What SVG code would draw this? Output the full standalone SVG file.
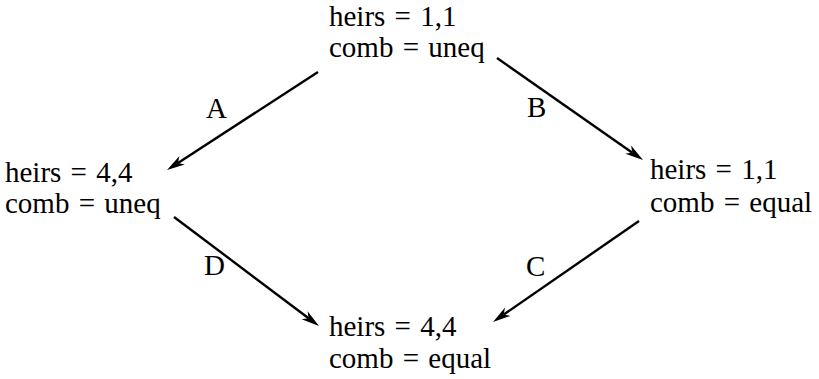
<svg xmlns="http://www.w3.org/2000/svg" width="819" height="379" viewBox="0 0 819 379">
<rect width="819" height="379" fill="#fff"/>
<g id="n1"><text font-family="Liberation Serif" font-size="29" word-spacing="2" x="329" y="26">heirs = 1,1</text><text font-family="Liberation Serif" font-size="29" word-spacing="2" x="329" y="57">comb = uneq</text></g>
<g id="n2"><text font-family="Liberation Serif" font-size="29" word-spacing="2" x="5" y="182">heirs = 4,4</text><text font-family="Liberation Serif" font-size="29" word-spacing="2" x="5" y="213">comb = uneq</text></g>
<g id="n3"><text font-family="Liberation Serif" font-size="29" word-spacing="2" x="650" y="179">heirs = 1,1</text><text font-family="Liberation Serif" font-size="29" word-spacing="2" x="650" y="212">comb = equal</text></g>
<g id="n4"><text font-family="Liberation Serif" font-size="29" word-spacing="2" x="329" y="336">heirs = 4,4</text><text font-family="Liberation Serif" font-size="29" word-spacing="2" x="329" y="368">comb = equal</text></g>
<g id="labels">
<text font-family="Liberation Serif" font-size="29" x="206" y="118">A</text>
<text font-family="Liberation Serif" font-size="29" x="527" y="117">B</text>
<text font-family="Liberation Serif" font-size="29" x="204" y="275">D</text>
<text font-family="Liberation Serif" font-size="29" x="526" y="276">C</text>
</g>
<g id="connectors">
<g stroke="#000" stroke-width="2.4" fill="none">
<line x1="318" y1="72" x2="178" y2="163"/>
<line x1="497" y1="58" x2="632" y2="152.5"/>
<line x1="174" y1="217" x2="308.6" y2="318.2"/>
<line x1="639" y1="221" x2="503.7" y2="314.6"/>
</g>
<g fill="#000">
<polygon points="167,170 179.4,156.0 177.9,162.9 184.8,164.4"/>
<polygon points="643,160 625.4,153.8 632.3,152.5 631.1,145.6"/>
<polygon points="319,326 301.6,319.2 308.6,318.2 307.6,311.2"/>
<polygon points="493,322 505.0,307.6 503.7,314.6 510.6,315.9"/>
</g>
</g>
</svg>
